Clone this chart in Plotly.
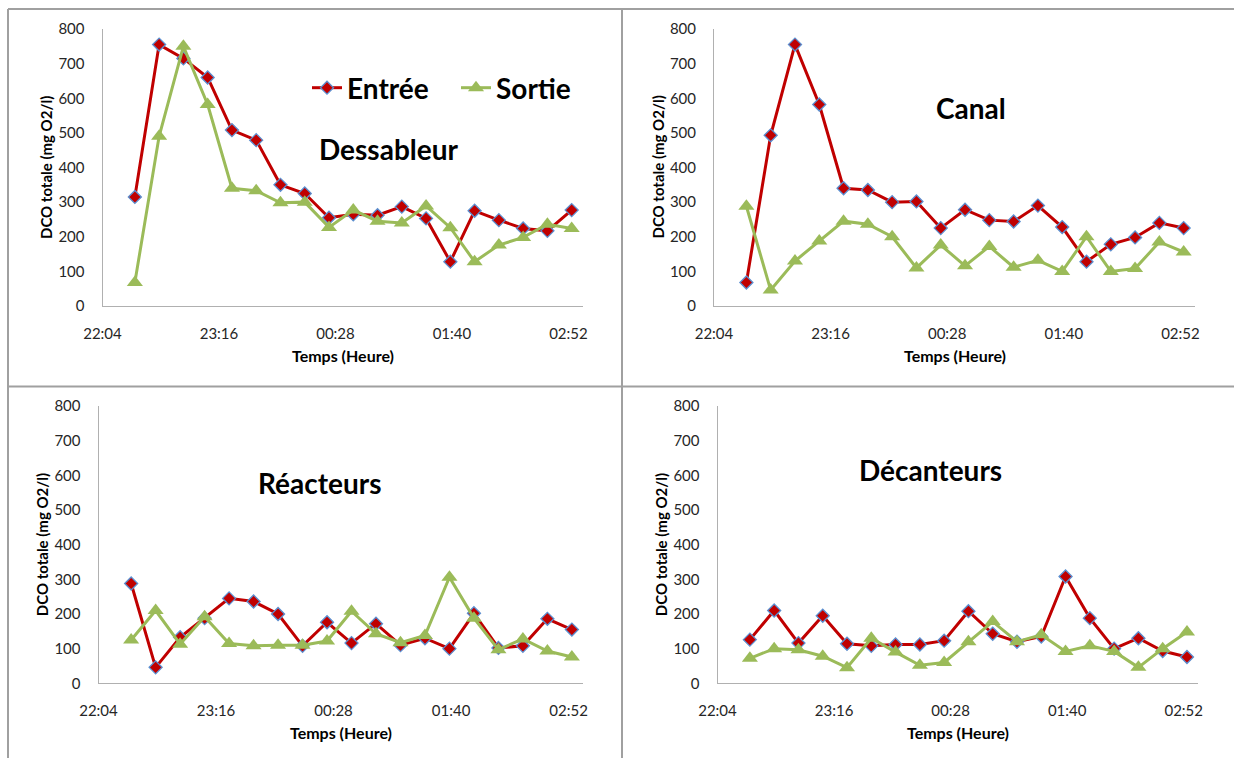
import plotly.graph_objects as go

# Sampling times (every 15 min, night of the campaign)
heures = ["22:24", "22:39", "22:54", "23:09", "23:24", "23:39", "23:54",
          "00:09", "00:24", "00:39", "00:54", "01:09", "01:24", "01:39",
          "01:54", "02:09", "02:24", "02:39", "02:54"]
ticks_heure = ["22:04", "23:16", "00:28", "01:40", "02:52"]
debut_axe, fin_axe = "22:04", "03:01"

# Total COD (mg O2/l) at the inlet / outlet of each stage
dessableur_entree = [315, 755, 715, 660, 508, 479, 350, 325, 255, 265,
                     262, 287, 253, 128, 275, 248, 224, 217, 277]
dessableur_sortie = [68, 490, 750, 582, 340, 333, 298, 300, 227, 277,
                     245, 240, 289, 226, 128, 176, 198, 236, 224]
canal_entree = [68, 493, 755, 582, 340, 335, 300, 302, 225, 278,
                248, 244, 290, 228, 128, 178, 198, 240, 225]
canal_sortie = [288, 46, 130, 188, 245, 236, 200, 110, 176, 116,
                172, 112, 132, 100, 200, 100, 108, 185, 156]
reacteurs_entree = [288, 46, 133, 188, 245, 236, 200, 108, 176, 116,
                    172, 110, 130, 100, 202, 102, 108, 186, 155]
reacteurs_sortie = [125, 210, 113, 192, 115, 108, 110, 110, 122, 208,
                    143, 117, 138, 306, 188, 97, 128, 93, 76]
decanteurs_entree = [126, 210, 116, 195, 114, 108, 112, 112, 123, 208,
                     143, 120, 135, 308, 188, 100, 130, 93, 76]
decanteurs_sortie = [72, 100, 97, 78, 45, 130, 90, 52, 60, 120,
                     178, 120, 140, 92, 108, 92, 46, 100, 148]


def horodatage(h):
    """Place evening hours on day 1 and after-midnight hours on day 2."""
    jour = "2013-05-01" if int(h[:2]) >= 12 else "2013-05-02"
    return f"{jour} {h}:00"


x_temps = [horodatage(h) for h in heures]

W, H = 1234, 758
ROUGE = "#C00000"
VERT = "#9BBB59"
BORD_BLEU = "#5B8FD0"
POLICE = "Lato"

# (title, inlet, outlet, plot-area x px, plot-area y px, title position px)
panneaux = [
    ("Dessableur", dessableur_entree, dessableur_sortie, (102.5, 583), (29, 306), (388, 149)),
    ("Canal", canal_entree, canal_sortie, (714, 1195), (29, 306), (971, 108)),
    ("Réacteurs", reacteurs_entree, reacteurs_sortie, (98.5, 583.3), (406, 683.3), (319, 483)),
    ("Décanteurs", decanteurs_entree, decanteurs_sortie, (717.5, 1198.3), (406, 683.3), (930, 470)),
]

fig = go.Figure()
layout = dict(
    template="none",
    width=W, height=H,
    margin=dict(l=0, r=0, t=0, b=0, pad=0, autoexpand=False),
    paper_bgcolor="white", plot_bgcolor="white",
    font=dict(family=POLICE, color="#262626"),
    showlegend=True,
    legend=dict(
        orientation="h", x=307 / W, y=1 - 88 / H, xanchor="left", yanchor="middle",
        font=dict(family=POLICE, size=28, color="black", weight="bold"),
        bgcolor="rgba(0,0,0,0)", entrywidth=104, tracegroupgap=0,
    ),
    annotations=[], shapes=[],
)

for i, (titre, entree, sortie, (x0, x1), (y0, y1), (tx, ty)) in enumerate(panneaux, start=1):
    suffixe = "" if i == 1 else str(i)
    xa, ya = f"x{suffixe}", f"y{suffixe}"

    fig.add_trace(go.Scatter(
        x=x_temps, y=entree, name="Entrée", xaxis=xa, yaxis=ya,
        mode="lines+markers", legendgroup="entree", showlegend=(i == 1),
        line=dict(color=ROUGE, width=3),
        marker=dict(symbol="diamond", size=10, color=ROUGE,
                    line=dict(color=BORD_BLEU, width=1.3)),
    ))
    fig.add_trace(go.Scatter(
        x=x_temps, y=sortie, name="Sortie", xaxis=xa, yaxis=ya,
        mode="lines+markers", legendgroup="sortie", showlegend=(i == 1),
        line=dict(color=VERT, width=3),
        marker=dict(symbol="triangle-up", size=14, color=VERT),
    ))

    layout[f"xaxis{suffixe}"] = dict(
        type="date", domain=[x0 / W, x1 / W], anchor=ya,
        range=[horodatage(debut_axe), horodatage(fin_axe)],
        tickvals=[horodatage(t) for t in ticks_heure], ticktext=ticks_heure,
        showline=True, linecolor="#B0B0B0", linewidth=1,
        showgrid=False, zeroline=False, ticks="", automargin=False,
        tickfont=dict(family=POLICE, size=15, color="#262626"),
        ticklabelstandoff=14, fixedrange=True,
    )
    layout[f"yaxis{suffixe}"] = dict(
        domain=[1 - y1 / H, 1 - y0 / H], anchor=xa, range=[0, 800],
        tickvals=list(range(0, 801, 100)),
        showline=True, linecolor="#B0B0B0", linewidth=1,
        showgrid=False, zeroline=False, ticks="", automargin=False,
        tickfont=dict(family=POLICE, size=15, color="#262626"),
        ticklabelstandoff=14, fixedrange=True,
    )

    # Stage name inside the plot
    layout["annotations"].append(dict(
        text=titre, xref="paper", yref="paper", x=tx / W, y=1 - ty / H,
        xanchor="center", yanchor="middle", showarrow=False,
        font=dict(family=POLICE, size=28, color="black", weight="bold"),
    ))
    # Axis titles
    layout["annotations"].append(dict(
        text="Temps (Heure)", xref="paper", yref="paper",
        x=(x0 + x1) / 2 / W, y=1 - (y1 + 49) / H,
        xanchor="center", yanchor="middle", showarrow=False,
        font=dict(family=POLICE, size=16, color="black", weight="bold"),
    ))
    layout["annotations"].append(dict(
        text="DCO totale (mg O2/l)", xref="paper", yref="paper",
        x=(x0 - 57) / W, y=1 - (y0 + y1) / 2 / H, textangle=-90,
        xanchor="center", yanchor="middle", showarrow=False,
        font=dict(family=POLICE, size=15, color="black", weight="bold"),
    ))

# Frame lines separating the four charts
cadre = [
    (8, 9, W, 9), (8, 9, 8, H), (622, 9, 622, H), (8, 386.5, W, 386.5),
]
for (ax0, ay0, ax1, ay1) in cadre:
    layout["shapes"].append(dict(
        type="line", xref="paper", yref="paper",
        x0=ax0 / W, y0=1 - ay0 / H, x1=ax1 / W, y1=1 - ay1 / H,
        line=dict(color="#A0A0A0", width=2),
    ))

fig.update_layout(**layout)
fig.write_html("out.html")
